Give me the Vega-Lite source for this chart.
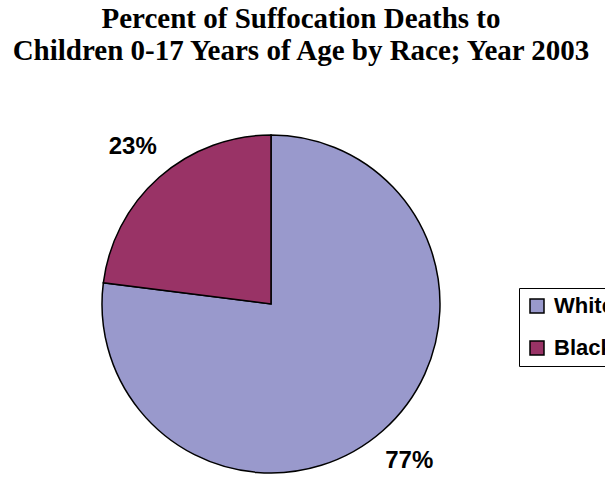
{
  "$schema": "https://vega.github.io/schema/vega-lite/v6.json",
  "autosize": "none",
  "width": 338,
  "height": 338,
  "padding": {"left": 102, "top": 135, "right": 165, "bottom": 8},
  "background": "white",
  "title": {
    "text": ["Percent of Suffocation Deaths to", "Children 0-17 Years of Age by Race; Year 2003"],
    "font": "Liberation Serif",
    "fontSize": 29,
    "fontWeight": "bold",
    "color": "black",
    "anchor": "middle",
    "dx": 30,
    "offset": 66,
    "lineHeight": 32
  },
  "data": {
    "values": [
      {"race": "White", "value": 77, "label": "77%"},
      {"race": "Black", "value": 23, "label": "23%"}
    ]
  },
  "encoding": {
    "theta": {"field": "value", "type": "quantitative", "stack": true},
    "order": {"field": "value", "sort": "descending"}
  },
  "layer": [
    {
      "mark": {"type": "arc", "outerRadius": 169, "stroke": "black", "strokeWidth": 1.5},
      "encoding": {
        "color": {
          "field": "race",
          "type": "nominal",
          "scale": {"domain": ["White", "Black"], "range": ["#9999CC", "#993366"]},
          "legend": {
            "title": null,
            "orient": "none",
            "legendX": 417,
            "legendY": 153,
            "symbolType": "square",
            "symbolSize": 196,
            "symbolStrokeColor": "black",
            "symbolStrokeWidth": 1.5,
            "labelFont": "Liberation Sans",
            "labelFontSize": 22,
            "labelFontWeight": "bold",
            "labelColor": "black",
            "labelOffset": 6,
            "rowPadding": 20,
            "padding": 7,
            "strokeColor": "black",
            "fillColor": "white"
          }
        }
      }
    },
    {
      "mark": {"type": "text", "radius": 209, "font": "Liberation Sans", "fontSize": 24, "fontWeight": "bold", "color": "black"},
      "encoding": {"text": {"field": "label"}}
    }
  ],
  "config": {"view": {"stroke": null}}
}
